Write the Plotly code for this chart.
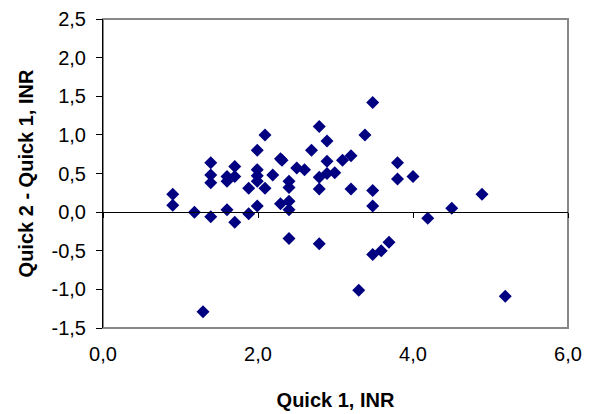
import plotly.graph_objects as go

quick1 = [0.90, 0.90, 1.18, 1.29, 1.39, 1.39, 1.39, 1.39, 1.60, 1.60, 1.60,
          1.70, 1.70, 1.70, 1.88, 1.88, 1.99, 1.99, 1.99, 1.99, 1.99,
          2.09, 2.09, 2.19, 2.29, 2.31, 2.29, 2.40, 2.40, 2.40, 2.40, 2.40,
          2.50, 2.60, 2.69, 2.79, 2.79, 2.79, 2.79, 2.89, 2.89, 2.89, 2.99,
          3.09, 3.20, 3.20, 3.30, 3.38, 3.48, 3.48, 3.48, 3.48, 3.59, 3.69,
          3.80, 3.80, 4.00, 4.19, 4.50, 4.89, 5.19]
diff = [0.23, 0.09, 0.00, -1.29, 0.64, 0.48, 0.38, -0.06, 0.46, 0.40, 0.03,
        0.59, 0.46, -0.13, 0.31, -0.02, 0.80, 0.55, 0.47, 0.40, 0.08,
        1.00, 0.31, 0.48, 0.69, 0.67, 0.11, 0.40, 0.32, 0.14, 0.03, -0.34,
        0.57, 0.55, 0.80, 1.11, 0.45, 0.30, -0.41, 0.92, 0.66, 0.50, 0.51,
        0.67, 0.73, 0.30, -1.01, 1.00, 1.42, 0.28, 0.08, -0.55, -0.50, -0.39,
        0.64, 0.43, 0.46, -0.08, 0.05, 0.23, -1.09]

x_ticks = [0, 2, 4, 6]
y_ticks = [-1.5, -1.0, -0.5, 0.0, 0.5, 1.0, 1.5, 2.0, 2.5]
x_labels = ["0,0", "2,0", "4,0", "6,0"]
y_labels = ["-1,5", "-1,0", "-0,5", "0,0", "0,5", "1,0", "1,5", "2,0", "2,5"]

fig = go.Figure()
fig.add_trace(go.Scatter(
    x=quick1, y=diff, mode="markers",
    marker=dict(symbol="diamond", size=10, color="#000080",
                line=dict(width=0)),
    showlegend=False, hoverinfo="skip"))
# dummy trace so the zero-crossing x axis renders
fig.add_trace(go.Scatter(x=[0], y=[0], xaxis="x2", mode="markers",
                         marker=dict(opacity=0), showlegend=False,
                         hoverinfo="skip"))

font = dict(family="Liberation Sans, Arial, sans-serif", size=20, color="black")

fig.update_layout(
    width=594, height=414,
    margin=dict(l=95, r=34, t=11, b=94),
    paper_bgcolor="white", plot_bgcolor="white",
    font=font,
    xaxis=dict(range=[0, 6], tickvals=x_ticks, ticktext=x_labels,
               automargin=False,
               showgrid=False, zeroline=False, showline=False,
               ticks="outside", ticklen=8, tickcolor="rgba(0,0,0,0)",
               title=dict(text="<b>Quick 1, INR</b>", standoff=28,
                          font=dict(size=20))),
    xaxis2=dict(range=[0, 6], overlaying="x", anchor="free", position=0.375,
                automargin=False,
                tickvals=x_ticks, showticklabels=False, showgrid=False,
                zeroline=False, showline=True, linecolor="black", linewidth=1,
                ticks="outside", ticklen=5, tickcolor="black"),
    yaxis=dict(range=[-1.5, 2.5], tickvals=y_ticks, ticktext=y_labels,
               automargin=False,
               showgrid=False, zeroline=False, showline=True,
               linecolor="black", linewidth=1,
               ticks="outside", ticklen=6, tickcolor="black",
               ticklabelstandoff=6,
               title=dict(text="<b>Quick 2 - Quick 1, INR</b>", standoff=12,
                          font=dict(size=20))),
    shapes=[dict(type="rect", xref="paper", yref="paper", x0=0, x1=1,
                 y0=0, y1=1, line=dict(color="#888888", width=2),
                 layer="below")],
)

fig.write_html("out.html")
